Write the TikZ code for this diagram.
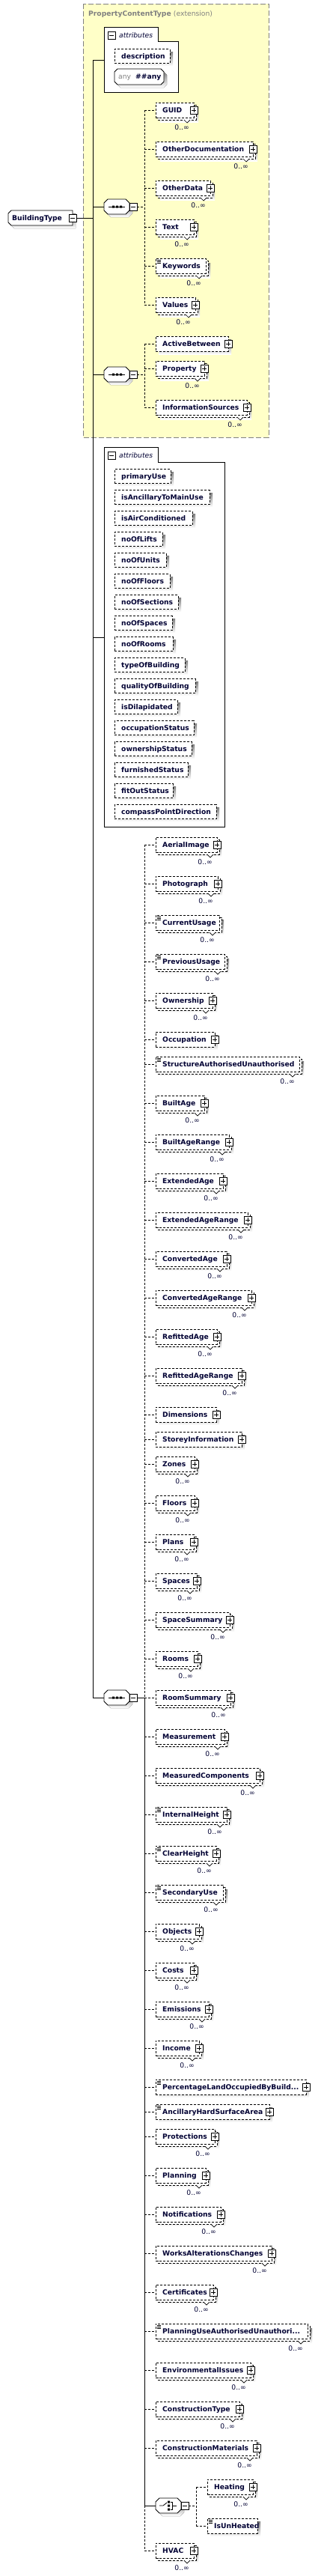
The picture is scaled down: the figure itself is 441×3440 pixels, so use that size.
\documentclass[tikz,border=0pt]{standalone}
\usepackage{fontspec}
\setmainfont{DejaVu Sans}
\usepackage{tikz}
\pgfdeclarelayer{background}
\pgfsetlayers{background,main}

\definecolor{navy}{HTML}{000033}
\definecolor{panel}{HTML}{FFFFC8}
\definecolor{shade}{HTML}{C4C4C4}
\definecolor{greytext}{HTML}{808080}

\tikzset{
  conn/.style={line width=0.9pt},
  dconn/.style={line width=0.9pt, dash pattern=on 3pt off 2pt},
  dline/.style={draw, fill=white, line width=0.9pt, dash pattern=on 3pt off 2pt},
  ebox/.style={dline, inner sep=0pt, minimum height=20pt},
  etext/.style={inner sep=0pt, text height=6.8pt, text depth=0pt, text=navy, font=\fontsize{9.2}{11}\selectfont\bfseries},
  otext/.style={etext, font=\fontsize{9.2}{11}\selectfont},
  atext/.style={etext, font=\fontsize{9.2}{11}\selectfont\itshape},
  pmbox/.style={draw, fill=white, line width=0.8pt, minimum size=10pt, inner sep=0pt},
}

% element: name, text, left x, y, right x, repeated, expandable, simple type, bus
\newcommand{\xelem}[9]{%
  \ifnum#6=1
    \fill[shade] (#3+6,#4-4) rectangle (#5+6,#4+16);
    \draw[dline] (#3+3,#4-7) rectangle (#5+3,#4+13);
    \draw[fill=white, line width=0.7pt] (#5-13,#4+13) -- (#5-9,#4+17) -- (#5-5,#4+13);
    \node[otext, anchor=east] (#1o) at (#5-6,#4+23) {0..∞};
  \else
    \fill[shade] (#3+4,#4-6) rectangle (#5+4,#4+14);
  \fi
  \node[ebox, minimum width={(#5-#3)*1pt}, anchor=west] (#1) at (#3,#4) {};
  \node[etext, anchor=west] (#1t) at (#3+9,#4) {#2};
  \ifnum#7=1
    \node[pmbox] (#1p) at (#5,#4) {};
    \draw[line width=0.8pt] (#5-3,#4) -- (#5+3,#4) (#5,#4-3) -- (#5,#4+3);
  \fi
  \ifnum#8=1
    \draw[line width=0.6pt] (#3+2,#4-8) -- ++(5,0) (#3+2,#4-6) -- ++(5,0) (#3+2,#4-4) -- ++(5,0);
  \fi
  \draw[dconn] (#9 |- #1.west) -- (#1.west);
}

% attribute: name, text, y, right x
\newcommand{\xattr}[4]{%
  \fill[shade] (157,#3-6) rectangle (#4+4,#3+13);
  \node[ebox, minimum width={(#4-153)*1pt}, minimum height=19pt, anchor=west] (#1) at (153,#3) {};
  \node[etext, anchor=west] (#1t) at (162,#3) {#2};
}

% compositor octagon with minus box: name, left x, y
\newcommand{\xoct}[3]{%
  \fill[shade] (#2+9,#3-6) -- (#2+33,#3-6) -- (#2+38,#3-1) -- (#2+38,#3+9) -- (#2+33,#3+14) -- (#2+9,#3+14) -- (#2+4,#3+9) -- (#2+4,#3-1) -- cycle;
  \draw[fill=white, conn] (#2+5,#3-10) -- (#2+29,#3-10) -- (#2+34,#3-5) -- (#2+34,#3+5) -- (#2+29,#3+10) -- (#2+5,#3+10) -- (#2,#3+5) -- (#2,#3-5) -- cycle;
  \node[minimum width=34pt, minimum height=20pt, inner sep=0pt] (#1) at (#2+17,#3) {};
  \node[pmbox] (#1m) at (#2+39,#3) {};
  \draw[line width=0.8pt] (#2+36,#3) -- (#2+42,#3);
}
\newcommand{\xseq}[3]{%
  \xoct{#1}{#2}{#3}
  \draw[line width=0.8pt] (#2+6,#3) -- (#2+28,#3);
  \fill (#2+11,#3-1.5) rectangle ++(3,3) (#2+16,#3-1.5) rectangle ++(3,3) (#2+21,#3-1.5) rectangle ++(3,3);
}
\newcommand{\xchoice}[3]{%
  \xoct{#1}{#2}{#3}
  \draw[line width=0.8pt] (#2+5,#3) -- (#2+10,#3) -- (#2+15,#3-4);
  \fill (#2+16,#3-6.5) rectangle ++(3,3) (#2+16,#3-1.5) rectangle ++(3,3) (#2+16,#3+3.5) rectangle ++(3,3);
  \draw[line width=0.8pt] (#2+20,#3-5) -- (#2+22,#3-5) -- (#2+22,#3+5) -- (#2+20,#3+5) (#2+22,#3) -- (#2+28,#3);
}

\begin{document}
\begin{tikzpicture}[x=1pt, y=-1pt]
\useasboundingbox (0,0) rectangle (441,3440);
\begin{pgfonlayer}{background}
\fill[white] (0,0) rectangle (441,3440);
\draw[draw=gray, fill=panel, line width=0.9pt, dash pattern=on 7pt off 3pt] (111,5) rectangle (359,584);
\end{pgfonlayer}

\coordinate (trunk) at (124,0);
\coordinate (seqbus) at (193,0);
\coordinate (chbus) at (262,0);
\coordinate (attrone) at (139,80);
\coordinate (attrtwo) at (139,851);

\node[etext, text=greytext, anchor=west] (ptitle) at (118,18) {PropertyContentType \mdseries(extension)};

% root element
\fill[shade] (19,285) -- (101,285) -- (101,305) -- (19,305) -- (15,301) -- (15,289) -- cycle;
\draw[fill=white, conn] (15,281) -- (97,281) -- (97,301) -- (15,301) -- (11,297) -- (11,285) -- cycle;
\node[etext, anchor=west] (root) at (16,291) {BuildingType};
\node[pmbox] (rootm) at (97,291) {};
\draw[line width=0.8pt] (94,291) -- (100,291);

% first attributes
\draw[fill=white, conn] (139,123) -- (139,36) -- (211,36) -- (211,55) -- (238,55) -- (238,123) -- cycle;
\node[pmbox] (attronem) at (149,47) {};
\draw[line width=0.8pt] (146,47) -- (152,47);
\node[atext, anchor=west] (attronet) at (159,47) {attributes};
\xattr{description}{description}{75}{227}
\fill[shade] (161,96) -- (219,96) -- (223,100) -- (223,113) -- (219,117) -- (161,117) -- (157,113) -- (157,100) -- cycle;
\draw[fill=white, conn] (157,92) -- (215,92) -- (219,96) -- (219,109) -- (215,113) -- (157,113) -- (153,109) -- (153,96) -- cycle;
\node[otext, text=greytext, anchor=west] (anyk) at (158,102.5) {any};
\node[etext, anchor=west] (anyv) at (181,102.5) {\#\#any};

% first sequence
\xseq{seqone}{139}{276}
\xelem{guid}{GUID}{208}{147}{259}{1}{1}{0}{seqbus}
\xelem{otherdoc}{OtherDocumentation}{208}{199}{338}{1}{1}{0}{seqbus}
\xelem{otherdata}{OtherData}{208}{251}{281}{1}{1}{0}{seqbus}
\xelem{textel}{Text}{208}{303}{259}{1}{1}{0}{seqbus}
\xelem{keywords}{Keywords}{208}{355}{275}{1}{0}{1}{seqbus}
\xelem{values}{Values}{208}{407}{261}{1}{1}{0}{seqbus}
\draw[dconn] (seqonem.east) -- (seqbus |- seqonem.east);
\draw[dconn] (seqbus |- guid.west) -- (seqbus |- values.west);

% second sequence
\xseq{seqtwo}{139}{500}
\xelem{activebetween}{ActiveBetween}{208}{459}{305}{0}{1}{0}{seqbus}
\xelem{property}{Property}{208}{492}{273}{1}{1}{0}{seqbus}
\xelem{infosources}{InformationSources}{208}{544}{330}{1}{1}{0}{seqbus}
\draw[dconn] (seqtwom.east) -- (seqbus |- seqtwom.east);
\draw[dconn] (seqbus |- activebetween.west) -- (seqbus |- infosources.west);

% second attributes
\draw[fill=white, conn] (139,1104) -- (139,597) -- (211,597) -- (211,617) -- (300,617) -- (300,1104) -- cycle;
\node[pmbox] (attrtwom) at (149,608) {};
\draw[line width=0.8pt] (146,608) -- (152,608);
\node[atext, anchor=west] (attrtwot) at (159,608) {attributes};
\xattr{primaryUse}{primaryUse}{636}{228}
\xattr{isAncillaryToMainUse}{isAncillaryToMainUse}{664}{280}
\xattr{isAirConditioned}{isAirConditioned}{692}{257}
\xattr{noOfLifts}{noOfLifts}{720}{217}
\xattr{noOfUnits}{noOfUnits}{748}{222}
\xattr{noOfFloors}{noOfFloors}{776}{227}
\xattr{noOfSections}{noOfSections}{804}{238}
\xattr{noOfSpaces}{noOfSpaces}{832}{230}
\xattr{noOfRooms}{noOfRooms}{860}{231}
\xattr{typeOfBuilding}{typeOfBuilding}{888}{247}
\xattr{qualityOfBuilding}{qualityOfBuilding}{916}{261}
\xattr{isDilapidated}{isDilapidated}{944}{237}
\xattr{occupationStatus}{occupationStatus}{972}{259}
\xattr{ownershipStatus}{ownershipStatus}{1000}{256}
\xattr{furnishedStatus}{furnishedStatus}{1028}{251}
\xattr{fitOutStatus}{fitOutStatus}{1056}{231}
\xattr{compassPointDirection}{compassPointDirection}{1084}{289}

% main sequence
\xseq{mainseq}{139}{2267}
\xelem{aerial}{AerialImage}{208}{1128}{290}{1}{1}{0}{seqbus}
\xelem{photo}{Photograph}{208}{1180}{291}{1}{1}{0}{seqbus}
\xelem{currentusage}{CurrentUsage}{208}{1232}{293}{1}{0}{1}{seqbus}
\xelem{previoususage}{PreviousUsage}{208}{1284}{300}{1}{0}{1}{seqbus}
\xelem{ownership}{Ownership}{208}{1336}{284}{1}{1}{0}{seqbus}
\xelem{occupation}{Occupation}{208}{1388}{287}{0}{1}{0}{seqbus}
\xelem{structauth}{StructureAuthorisedUnauthorised}{208}{1421}{400}{1}{0}{1}{seqbus}
\xelem{builtage}{BuiltAge}{208}{1473}{273}{1}{1}{0}{seqbus}
\xelem{builtagerange}{BuiltAgeRange}{208}{1525}{306}{1}{1}{0}{seqbus}
\xelem{extage}{ExtendedAge}{208}{1577}{298}{1}{1}{0}{seqbus}
\xelem{extagerange}{ExtendedAgeRange}{208}{1629}{331}{1}{1}{0}{seqbus}
\xelem{convage}{ConvertedAge}{208}{1681}{303}{1}{1}{0}{seqbus}
\xelem{convagerange}{ConvertedAgeRange}{208}{1733}{336}{1}{1}{0}{seqbus}
\xelem{refage}{RefittedAge}{208}{1785}{290}{1}{1}{0}{seqbus}
\xelem{refagerange}{RefittedAgeRange}{208}{1837}{323}{1}{1}{0}{seqbus}
\xelem{dimensions}{Dimensions}{208}{1889}{289}{0}{1}{0}{seqbus}
\xelem{storey}{StoreyInformation}{208}{1922}{323}{0}{1}{0}{seqbus}
\xelem{zones}{Zones}{208}{1955}{260}{1}{1}{0}{seqbus}
\xelem{floors}{Floors}{208}{2007}{260}{1}{1}{0}{seqbus}
\xelem{plans}{Plans}{208}{2059}{259}{1}{1}{0}{seqbus}
\xelem{spaces}{Spaces}{208}{2111}{263}{1}{1}{0}{seqbus}
\xelem{spacesummary}{SpaceSummary}{208}{2163}{307}{1}{1}{0}{seqbus}
\xelem{rooms}{Rooms}{208}{2215}{264}{1}{1}{0}{seqbus}
\xelem{roomsummary}{RoomSummary}{208}{2267}{308}{1}{1}{0}{seqbus}
\xelem{measurement}{Measurement}{208}{2319}{300}{1}{1}{0}{seqbus}
\xelem{measuredcomp}{MeasuredComponents}{208}{2371}{347}{1}{1}{0}{seqbus}
\xelem{internalheight}{InternalHeight}{208}{2423}{303}{1}{1}{1}{seqbus}
\xelem{clearheight}{ClearHeight}{208}{2475}{289}{1}{1}{1}{seqbus}
\xelem{secondaryuse}{SecondaryUse}{208}{2527}{298}{1}{0}{1}{seqbus}
\xelem{objects}{Objects}{208}{2579}{266}{1}{1}{0}{seqbus}
\xelem{costs}{Costs}{208}{2631}{259}{1}{1}{0}{seqbus}
\xelem{emissions}{Emissions}{208}{2683}{279}{1}{1}{0}{seqbus}
\xelem{income}{Income}{208}{2735}{266}{1}{1}{0}{seqbus}
\xelem{pctland}{PercentageLandOccupiedByBuild...}{208}{2787}{409}{0}{1}{1}{seqbus}
\xelem{ancillary}{AncillaryHardSurfaceArea}{208}{2820}{360}{0}{1}{1}{seqbus}
\xelem{protections}{Protections}{208}{2853}{287}{1}{1}{0}{seqbus}
\xelem{planning}{Planning}{208}{2905}{275}{1}{1}{0}{seqbus}
\xelem{notifications}{Notifications}{208}{2957}{295}{1}{1}{0}{seqbus}
\xelem{works}{WorksAlterationsChanges}{208}{3009}{363}{1}{1}{0}{seqbus}
\xelem{certificates}{Certificates}{208}{3061}{285}{1}{1}{0}{seqbus}
\xelem{planninguse}{PlanningUseAuthorisedUnauthori...}{208}{3113}{411}{1}{0}{1}{seqbus}
\xelem{envissues}{EnvironmentalIssues}{208}{3165}{335}{1}{1}{0}{seqbus}
\xelem{constype}{ConstructionType}{208}{3217}{320}{1}{1}{0}{seqbus}
\xelem{consmat}{ConstructionMaterials}{208}{3269}{343}{1}{1}{0}{seqbus}
\xchoice{choice}{208}{3346}
\xelem{heating}{Heating}{277}{3321}{338}{1}{1}{0}{chbus}
\xelem{isunheated}{IsUnHeated}{277}{3373}{344}{0}{0}{1}{chbus}
\xelem{hvac}{HVAC}{208}{3406}{259}{1}{1}{0}{seqbus}
\draw[conn] (mainseqm.east) -- (seqbus |- mainseqm.east);
\draw[dconn] (seqbus |- aerial.west) -- (seqbus |- mainseqm.east);
\draw[conn] (seqbus |- mainseqm.east) -- (seqbus |- choice.west);
\draw[dconn] (seqbus |- choice.west) -- (seqbus |- hvac.west);
\draw[conn] (seqbus |- choice.west) -- (choice.west);
\draw[dconn] (choicem.east) -- (chbus |- choicem.east);
\draw[dconn] (chbus |- heating.west) -- (chbus |- isunheated.west);

% trunk
\draw[conn] (trunk |- attrone) -- (trunk |- mainseq.west);
\draw[conn] (rootm.east) -- (trunk |- rootm.east);
\draw[conn] (trunk |- attrone) -- (attrone);
\draw[conn] (trunk |- seqone.west) -- (seqone.west);
\draw[conn] (trunk |- seqtwo.west) -- (seqtwo.west);
\draw[conn] (trunk |- attrtwo) -- (attrtwo);
\draw[conn] (trunk |- mainseq.west) -- (mainseq.west);
\end{tikzpicture}
\end{document}
